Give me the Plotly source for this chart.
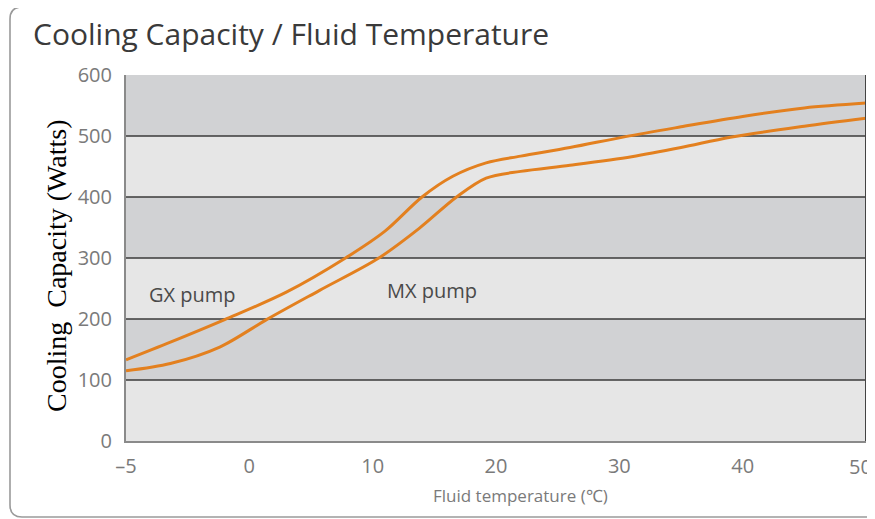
import plotly.graph_objects as go

# ---- data ----
gx_temp = [-5, -3.2, -1, 3, 7.8, 11, 14, 16.5, 19.2, 22, 26, 30.5, 35, 40, 45, 50]
gx_watts = [133, 162, 199, 244, 300, 344, 400, 434, 456, 467, 481, 499, 515, 532, 546, 554]

mx_temp = [-5, -3.2, -1.2, 1.4, 5.7, 10.5, 13.8, 16.8, 19.2, 22, 26, 31, 35, 39, 45, 50]
mx_watts = [115, 127, 154, 199, 247, 300, 349, 400, 431, 442, 452, 466, 481, 498, 516, 529]

x_tick_labels = [-5, 0, 10, 20, 30, 40, 50]
y_tick_labels = [0, 100, 200, 300, 400, 500, 600]


# The reference axis gives the -5..0 interval the same width as a 10-degree step.
def axis_pos(t):
    return 2 * t if t < 0 else t


def tick_text(t):
    return ("\u2013" + str(-t)) if t < 0 else str(t)


ORANGE = "#e3801f"
TICK_FONT = dict(family="Open Sans", size=20, color="#7a7a7a")

# the page body adds an 8px offset; figure is sized so it ends at the window edge
OFF = 8
W, H = 875 - OFF, 519 - OFF
ML, MR, MT, MB = 126 - OFF, 9, 75 - OFF, 78
PW, PH = W - ML - MR, H - MT - MB


def px(xp):  # window pixel x -> paper x
    return (xp - OFF - ML) / PW


def py(yp):  # window pixel y -> paper y
    return (H - MB - (yp - OFF)) / PH


fig = go.Figure()

for temps, watts, name in [(gx_temp, gx_watts, "GX pump"), (mx_temp, mx_watts, "MX pump")]:
    fig.add_trace(go.Scatter(
        x=[axis_pos(t) for t in temps], y=watts, mode="lines", name=name,
        line=dict(color=ORANGE, width=3, shape="spline", smoothing=0.9),
        showlegend=False, hoverinfo="skip", cliponaxis=False,
    ))

shapes = []
x_lo, x_hi = axis_pos(x_tick_labels[0]), axis_pos(x_tick_labels[-1])
for i in range(len(y_tick_labels) - 1):
    lo, hi = y_tick_labels[i], y_tick_labels[i + 1]
    color = "#e6e6e6" if i % 2 == 0 else "#d1d2d4"
    shapes.append(dict(type="rect", xref="x", yref="y", x0=x_lo, x1=x_hi, y0=lo, y1=hi,
                       fillcolor=color, line=dict(width=0), layer="below"))
for v in y_tick_labels[1:-1]:
    shapes.append(dict(type="line", xref="x", yref="y", x0=x_lo, x1=x_hi, y0=v, y1=v,
                       line=dict(color="#3a3a3a", width=1.3), layer="below"))
shapes.append(dict(type="line", xref="x", yref="y", x0=x_hi, x1=x_hi, y0=0, y1=600,
                   line=dict(color="#444444", width=2), layer="above"))

# outer rounded frame
r = 12
shapes.append(dict(type="path", xref="paper", yref="paper",
                   path=(f"M {px(10)} {py(505)} L {px(10)} {py(7 + r)} "
                         f"Q {px(10)} {py(7)} {px(10 + r)} {py(7)} L {px(871)} {py(7)}"),
                   line=dict(color="#9a9a9a", width=1.6)))
shapes.append(dict(type="path", xref="paper", yref="paper",
                   path=(f"M {px(10)} {py(505)} Q {px(10)} {py(517)} {px(10 + r)} {py(517)} "
                         f"L {px(871)} {py(517)}"),
                   line=dict(color="#9a9a9a", width=1.6)))

# last x tick label sits at the window edge; draw it right-aligned so it stays visible
ticktext = [tick_text(t) for t in x_tick_labels]
ticktext[-1] = ""

fig.update_layout(
    width=W, height=H,
    margin=dict(l=ML, r=MR, t=MT, b=MB, autoexpand=False),
    paper_bgcolor="white", plot_bgcolor="#e6e6e6",
    shapes=shapes,
    xaxis=dict(range=[x_lo, x_hi], tickvals=[axis_pos(t) for t in x_tick_labels],
               ticktext=ticktext,
               showgrid=False, zeroline=False, showline=True, linecolor="#8a8a8a", linewidth=2,
               ticks="", tickfont=TICK_FONT, ticklabelstandoff=6,
               ticklabeloverflow="allow"),
    yaxis=dict(range=[0, 600], tickvals=y_tick_labels, showgrid=False, zeroline=False,
               showline=True, linecolor="#8a8a8a", linewidth=2, ticks="",
               tickfont=TICK_FONT, ticklabelstandoff=8, ticklabeloverflow="allow"),
    annotations=[
        dict(text=tick_text(x_tick_labels[-1]), xref="paper", yref="paper",
             x=px(874), y=py(466), xanchor="right", yanchor="middle", showarrow=False,
             font=TICK_FONT),
        dict(text="Cooling Capacity / Fluid Temperature", xref="paper", yref="paper",
             x=px(31), y=py(34), xanchor="left", yanchor="middle", showarrow=False,
             font=dict(family="Open Sans", size=30, color="#3a3a3a")),
        dict(text="Cooling\u00a0\u00a0Capacity (Watts)", xref="paper", yref="paper",
             x=px(56), y=py(266), textangle=-90, xanchor="center", yanchor="middle",
             showarrow=False, font=dict(family="Liberation Serif", size=28, color="black")),
        dict(text="Fluid temperature (\u2103)", xref="paper", yref="paper",
             x=px(520), y=py(495), xanchor="center", yanchor="middle", showarrow=False,
             font=dict(family="Open Sans", size=17, color="#7a7a7a")),
        dict(text="GX pump", xref="paper", yref="paper", x=px(192), y=py(294),
             xanchor="center", yanchor="middle",
             showarrow=False, font=dict(family="Open Sans", size=20, color="#4a4a4a")),
        dict(text="MX pump", xref="paper", yref="paper", x=px(432), y=py(290),
             xanchor="center", yanchor="middle",
             showarrow=False, font=dict(family="Open Sans", size=20, color="#4a4a4a")),
    ],
)

fig.write_html("out.html")
